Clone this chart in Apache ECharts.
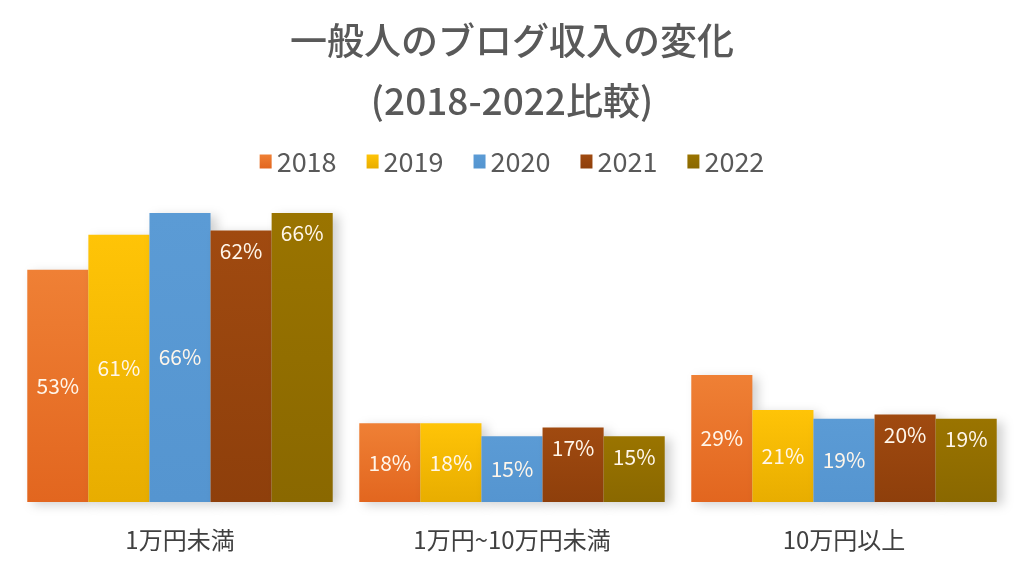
<!DOCTYPE html>
<html>
<head>
<meta charset="utf-8">
<script src="https://cdn.jsdelivr.net/npm/echarts@6/dist/echarts.min.js"></script>
<style>html,body{margin:0;padding:0;background:#fff}#c{width:1024px;height:570px}</style>
</head>
<body>
<div id="c"></div>
<script>
const categories = ['1万円未満', '1万円~10万円未満', '10万円以上'];
const seriesNames = ['2018', '2019', '2020', '2021', '2022'];
const v2018 = [53, 18, 29];
const v2019 = [61, 18, 21];
const v2020 = [66, 15, 19];
const v2021 = [62, 17, 20];
const v2022 = [66, 15, 19];
const allValues = [v2018, v2019, v2020, v2021, v2022];
const colorsTop = ['#EF8035', '#FFC407', '#5B9BD5', '#A04A10', '#9A7400'];
const colorsBottom = ['#E2661F', '#E8AD00', '#5595D0', '#8E3F0B', '#8A6800'];
const labelPos = ['inside', 'inside', 'inside', 'insideTop', 'insideTop'];
const FONT = '"Noto Sans CJK JP", "Noto Sans", sans-serif';

const chart = echarts.init(document.getElementById('c'));
chart.setOption({
  backgroundColor: '#ffffff',
  animation: false,
  title: {
    text: '一般人のブログ収入の変化\n(2018-2022比較)',
    left: 'center',
    top: 6,
    textStyle: { fontFamily: FONT, fontSize: 37, fontWeight: 500, color: '#595959', lineHeight: 60 }
  },
  legend: {
    data: seriesNames,
    top: 143,
    left: 'center',
    icon: 'rect',
    itemWidth: 12,
    itemHeight: 14,
    itemGap: 30,
    textStyle: { fontFamily: FONT, fontSize: 27, color: '#595959' }
  },
  grid: { left: 14, right: 14, top: 64, bottom: 68 },
  xAxis: {
    type: 'category',
    data: categories,
    axisLine: { show: false },
    axisTick: { show: false },
    axisLabel: { fontFamily: FONT, fontSize: 24, color: '#404040', margin: 26 }
  },
  yAxis: { type: 'value', min: 0, max: 100, show: false, splitLine: { show: false } },
  series: seriesNames.map((name, i) => ({
    name: name,
    type: 'bar',
    data: allValues[i],
    barGap: '0%',
    barCategoryGap: '8%',
    itemStyle: {
      color: new echarts.graphic.LinearGradient(0, 0, 0, 1, [
        { offset: 0, color: colorsTop[i] },
        { offset: 1, color: colorsBottom[i] }
      ]),
      shadowColor: 'rgba(0,0,0,0.18)',
      shadowBlur: 10,
      shadowOffsetX: 6,
      shadowOffsetY: 3
    },
    label: {
      show: true,
      position: labelPos[i],
      distance: 10,
      formatter: '{c}%',
      fontFamily: FONT,
      fontSize: 21,
      color: '#FFF6EA'
    }
  }))
});
</script>
</body>
</html>
